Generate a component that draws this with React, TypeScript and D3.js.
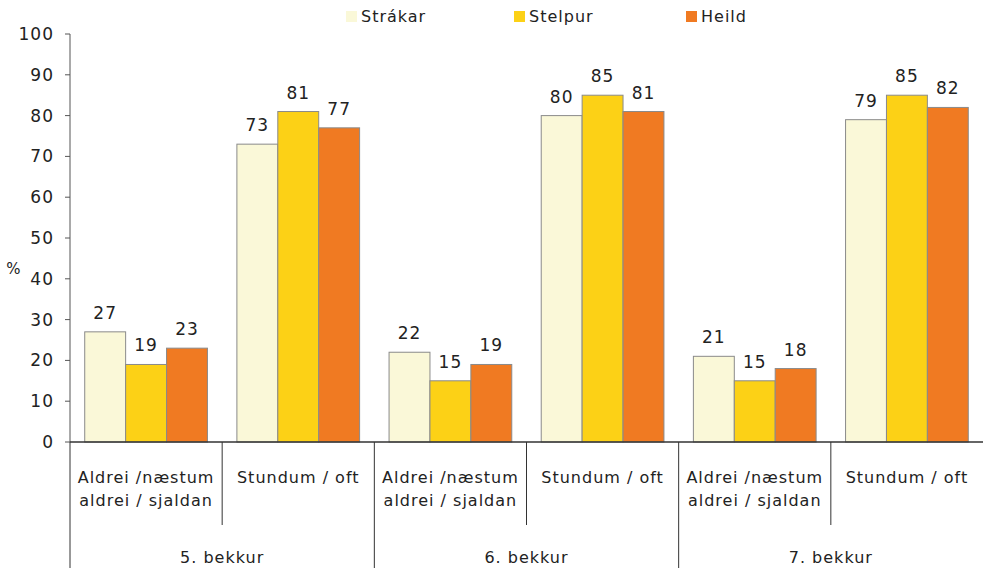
import React from "react";
import * as d3 from "d3";

const groups = ["5. bekkur", "6. bekkur", "7. bekkur"];
const answers = [["Aldrei /næstum", "aldrei / sjaldan"], ["Stundum / oft"]];
const seriesNames = ["Strákar", "Stelpur", "Heild"];
const seriesColors = ["#FAF8D8", "#FCD116", "#F07A22"];
// one row per category (group x answer), values per series
const values = [
  [27, 19, 23],
  [73, 81, 77],
  [22, 15, 19],
  [80, 85, 81],
  [21, 15, 18],
  [79, 85, 82],
];
const yTicks = [0, 10, 20, 30, 40, 50, 60, 70, 80, 90, 100];

const W = 983;
const H = 568;
const FONT = "'DejaVu Sans', sans-serif";

export default function App() {
  const left = 70;
  const right = 983;
  const top = 34;
  const bottom = 442;

  const categories = groups.flatMap((g, gi) => answers.map((a, ai) => `${gi}-${ai}`));
  const x0 = d3.scaleBand().domain(categories).range([left, right]).paddingInner(0).paddingOuter(0);
  const x1 = d3.scaleBand().domain(seriesNames).range([0, x0.bandwidth()]).paddingOuter(0.36).paddingInner(0);
  const y = d3.scaleLinear().domain([0, 100]).range([bottom, top]);
  const gx = d3.scaleBand().domain(groups).range([left, right]);

  return (
    <svg width={W} height={H} style={{ position: "absolute", left: 0, top: 0, fontFamily: FONT, letterSpacing: "1px" }}>
      {/* legend */}
      {seriesNames.map((s, i) => {
        const lx = [346, 514, 686][i];
        return (
          <g key={s}>
            <rect x={lx} y={11} width={11} height={11} fill={seriesColors[i]} />
            <text x={lx + 15} y={22} fontSize={16} fill="#222">{s}</text>
          </g>
        );
      })}

      {/* bars */}
      {values.map((row, ci) => (
        <g key={ci} transform={`translate(${x0(categories[ci])},0)`}>
          {row.map((v, si) => (
            <g key={si}>
              <rect
                x={x1(seriesNames[si])}
                y={y(v)}
                width={x1.bandwidth()}
                height={bottom - y(v)}
                fill={seriesColors[si]}
                stroke="#8a8a8a"
                strokeWidth={1}
              />
              <text
                x={(x1(seriesNames[si]) as number) + x1.bandwidth() / 2}
                y={y(v) - 13}
                textAnchor="middle"
                fontSize={17}
                fill="#222"
              >
                {v}
              </text>
            </g>
          ))}
        </g>
      ))}

      {/* y axis */}
      <line x1={left} x2={left} y1={top} y2={bottom} stroke="#555" />
      {yTicks.map((t) => (
        <g key={t}>
          <line x1={left - 5} x2={left} y1={y(t)} y2={y(t)} stroke="#555" />
          <text x={left - 16} y={y(t) + 6} textAnchor="end" fontSize={17} fill="#222">{t}</text>
        </g>
      ))}
      <text x={14} y={274} textAnchor="middle" fontSize={15} fill="#222">%</text>

      {/* x axis */}
      <line x1={left} x2={right} y1={bottom} y2={bottom} stroke="#333" strokeWidth={1.5} />
      {categories.map((c, ci) => {
        const cx = (x0(c) as number) + x0.bandwidth() / 2;
        const lines = answers[ci % 2];
        return (
          <g key={c}>
            {ci % 2 === 1 && (
              <line x1={x0(c)} x2={x0(c)} y1={bottom} y2={525} stroke="#333" />
            )}
            {lines.map((l, li) => (
              <text key={li} x={cx} y={483 + li * 23} textAnchor="middle" fontSize={16} fill="#222">{l}</text>
            ))}
          </g>
        );
      })}
      {groups.map((g) => (
        <g key={g}>
          <line x1={gx(g)} x2={gx(g)} y1={bottom} y2={H} stroke="#333" />
          <text x={(gx(g) as number) + gx.bandwidth() / 2} y={563} textAnchor="middle" fontSize={16} fill="#222">{g}</text>
        </g>
      ))}
    </svg>
  );
}
